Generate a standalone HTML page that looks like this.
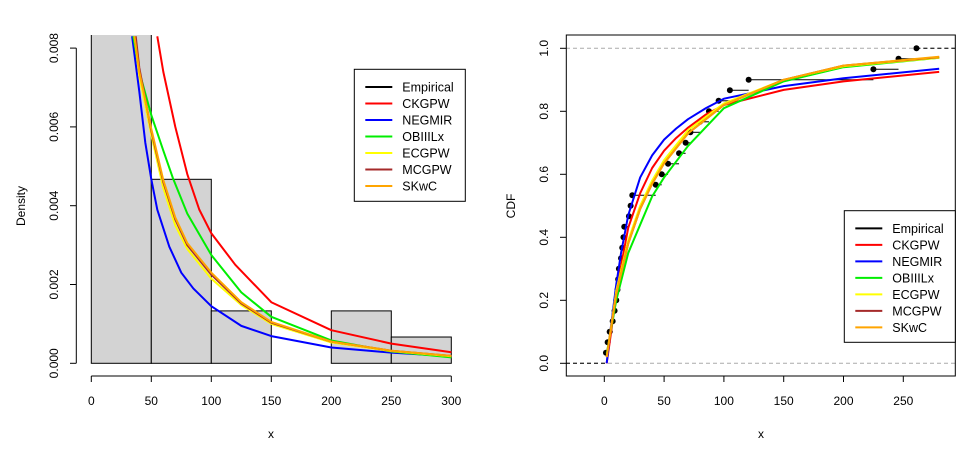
<!DOCTYPE html>
<html><head><meta charset="utf-8"><style>
body{margin:0;background:#fff}
svg{display:block;font-family:"Liberation Sans",Arial,sans-serif}
</style></head><body>
<svg id="c" width="970" height="454" viewBox="0 0 970 454">
<defs>
<clipPath id="clipL"><rect x="76" y="35" width="390" height="341"/></clipPath>
<clipPath id="clipR"><rect x="566" y="35" width="389" height="341"/></clipPath>
</defs>
<g id="left"></g>
<g id="right"></g>
</svg>
<script>
// ---- Left panel data (density in units of 0.001) ----
const binEdges=[0,50,100,150,200,250,300];
const binDens=[12.0,4.67,1.33,0,1.33,0.667];
const xTicksL=[0,50,100,150,200,250,300];
const yTicksL=[0,2,4,6,8];
const yTickLabelsL=["0.000","0.002","0.004","0.006","0.008"];
const denX_CK=[55,60,70,80,90,100,120,150,200,250,300];
const denY_CK=[8.3,7.4,6.0,4.8,3.9,3.3,2.5,1.55,0.84,0.5,0.28];
const denX_NE=[34,40,45,50,55,65,75,85,100,125,150,200,250,300];
const denY_NE=[8.3,6.9,5.6,4.67,3.9,2.96,2.3,1.9,1.45,0.95,0.69,0.40,0.27,0.18];
const denX_OB=[35,40,50,60,68,80,100,125,150,200,250,300];
const denY_OB=[8.3,7.4,6.3,5.4,4.7,3.8,2.75,1.8,1.18,0.58,0.3,0.15];
const denX_EC=[36,40,50,60,70,80,100,125,150,200,250,300];
const denY_EC=[8.3,7.3,5.8,4.45,3.5,2.9,2.15,1.48,1.0,0.53,0.31,0.18];
const denX_MC=[37,40,50,60,70,80,100,125,150,200,250,300];
const denY_MC=[8.3,7.5,5.9,4.6,3.65,3.0,2.25,1.52,1.03,0.55,0.32,0.19];
const denX_SK=[36,40,50,60,70,80,100,125,150,200,250,300];
const denY_SK=[8.3,7.4,5.95,4.65,3.7,3.05,2.3,1.55,1.05,0.55,0.32,0.19];
// ---- Right panel data ----
const ecdfX=[1.4,2.8,4.5,7,8.6,10,11,11.6,12.2,14,15,16,16.7,20.6,22,23.4,43,48,53.3,62.5,68,72,80,87.5,95.6,105,120.7,225,246,261];
const xTicksR=[0,50,100,150,200,250];
const yTicksR=[0,0.2,0.4,0.6,0.8,1.0];
const yTickLabelsR=["0.0","0.2","0.4","0.6","0.8","1.0"];
const cdfX_CK=[2,5,10,15,20,30,40,50,60,70,85,100,150,200,280];
const cdfY_CK=[0,0.08,0.22,0.33,0.43,0.54,0.62,0.675,0.715,0.748,0.79,0.82,0.868,0.895,0.925];
const cdfX_NE=[2,5,10,14,20,30,40,50,60,70,85,100,150,200,280];
const cdfY_NE=[0,0.1,0.25,0.35,0.47,0.59,0.66,0.71,0.745,0.775,0.81,0.84,0.88,0.905,0.935];
const cdfX_OB=[2,10,20,30,40,50,70,100,150,200,280];
const cdfY_OB=[0.03,0.2,0.35,0.44,0.53,0.59,0.69,0.81,0.895,0.94,0.97];
const cdfX_EC=[2,10,20,30,40,50,70,100,150,200,280];
const cdfY_EC=[0.02,0.23,0.39,0.5,0.58,0.645,0.74,0.825,0.9,0.943,0.97];
const cdfX_MC=[2,10,20,30,40,50,70,100,150,200,280];
const cdfY_MC=[0.02,0.22,0.38,0.49,0.57,0.635,0.73,0.82,0.9,0.945,0.972];
const cdfX_SK=[2,10,20,30,40,50,70,100,150,200,280];
const cdfY_SK=[0.02,0.22,0.38,0.49,0.57,0.635,0.73,0.82,0.9,0.945,0.973];

const NS="http://www.w3.org/2000/svg";
function mk(p,tag,attrs,text){const e=document.createElementNS(NS,tag);for(const k in attrs)e.setAttribute(k,attrs[k]);if(text!==undefined)e.textContent=text;p.appendChild(e);return e;}
const names=["Empirical","CKGPW","NEGMIR","OBIIILx","ECGPW","MCGPW","SKwC"];
const cols=["#000","#ff0000","#0000ff","#00ee00","#ffff00","#a52a2a","#ffa500"];

// Left scales
const xL=v=>91.3+v*1.2, yL=v=>363.3-v*39.4;
const L=document.getElementById('left');
const hg=mk(L,'g',{'clip-path':'url(#clipL)'});


binDens.forEach((d,i)=>{
  if(d<=0)return;
  const r=mk(hg,'rect',{x:xL(binEdges[i]),y:yL(d),width:xL(binEdges[i+1])-xL(binEdges[i]),height:yL(0)-yL(d),fill:'#d3d3d3',stroke:'#000','stroke-width':1});
  
  
});
const dens=[[denX_CK,denY_CK],[denX_NE,denY_NE],[denX_OB,denY_OB],[denX_EC,denY_EC],[denX_MC,denY_MC],[denX_SK,denY_SK]];
dens.forEach((s,i)=>{
  const pts=s[0].map((x,j)=>xL(x)+','+yL(s[1][j])).join(' ');
  const pl=mk(hg,'polyline',{points:pts,fill:'none',stroke:cols[i+1],'stroke-width':2,'stroke-linejoin':'round'});
  
  
});
// left axes
mk(L,'line',{x1:76.3,y1:yL(yTicksL[0]),x2:76.3,y2:yL(yTicksL[yTicksL.length-1]),stroke:'#000'});
yTicksL.forEach((t,i)=>{
  mk(L,'line',{x1:70,y1:yL(t),x2:76.3,y2:yL(t),stroke:'#000'});
  const tx=mk(L,'text',{x:0,y:0,transform:`translate(58,${yL(t)}) rotate(-90)`,'text-anchor':'middle','font-size':12},yTickLabelsL[i]);
  
  
});
mk(L,'line',{x1:xL(0),y1:376,x2:xL(300),y2:376,stroke:'#000'});
xTicksL.forEach(t=>{
  mk(L,'line',{x1:xL(t),y1:376,x2:xL(t),y2:382,stroke:'#000'});
  const tx=mk(L,'text',{x:xL(t),y:405,'text-anchor':'middle','font-size':12},String(t));
  
  
});
let t1=mk(L,'text',{x:271,y:438,'text-anchor':'middle','font-size':12},'x');


t1=mk(L,'text',{x:0,y:0,transform:'translate(25,206) rotate(-90)','text-anchor':'middle','font-size':12},'Density');



function legend(p,x,y,w,h){
  const g=mk(p,'g',{});
  
  
  mk(g,'rect',{x:x,y:y,width:w,height:h,fill:'#fff',stroke:'#000'});
  names.forEach((n,i)=>{
    const ey=y+17.7+i*16.5;
    const e=mk(g,'g',{});
    
    
    mk(e,'line',{x1:x+11,y1:ey,x2:x+38,y2:ey,stroke:cols[i],'stroke-width':2});
    mk(e,'text',{x:x+48,y:ey+4.5,'font-size':12.5},n);
  });
}
legend(L,354.3,69.3,111,132);

// Right panel
const xR=v=>604.3+v*1.196, yR=v=>363.3-v*315;
const R=document.getElementById('right');
const rg=mk(R,'g',{'clip-path':'url(#clipR)'});
mk(rg,'line',{x1:566,y1:yR(0),x2:955,y2:yR(0),stroke:'#aaa','stroke-dasharray':'4,3'});
mk(rg,'line',{x1:566,y1:yR(1),x2:955,y2:yR(1),stroke:'#aaa','stroke-dasharray':'4,3'});
const n=ecdfX.length;
const eg=mk(rg,'g',{});


mk(eg,'line',{x1:566,y1:yR(0),x2:xR(ecdfX[0]),y2:yR(0),stroke:'#000','stroke-dasharray':'4,3'});
mk(eg,'line',{x1:xR(ecdfX[n-1]),y1:yR(1),x2:955,y2:yR(1),stroke:'#000','stroke-dasharray':'4,3'});
ecdfX.forEach((x,i)=>{
  const yv=(i+1)/n;
  if(i<n-1) mk(eg,'line',{x1:xR(x),y1:yR(yv),x2:xR(ecdfX[i+1]),y2:yR(yv),stroke:'#000'});
});
ecdfX.forEach((x,i)=>{
  const c=mk(rg,'circle',{cx:xR(x),cy:yR((i+1)/n),r:3,fill:'#000'});
  
  
});
const cdfs=[[cdfX_CK,cdfY_CK],[cdfX_NE,cdfY_NE],[cdfX_OB,cdfY_OB],[cdfX_EC,cdfY_EC],[cdfX_MC,cdfY_MC],[cdfX_SK,cdfY_SK]];
cdfs.forEach((s,i)=>{
  const pts=s[0].map((x,j)=>xR(x)+','+yR(s[1][j])).join(' ');
  const pl=mk(rg,'polyline',{points:pts,fill:'none',stroke:cols[i+1],'stroke-width':2,'stroke-linejoin':'round'});
  
  
});
const box=mk(R,'rect',{x:566.3,y:35,width:389,height:341,fill:'none',stroke:'#000'});


yTicksR.forEach((t,i)=>{
  mk(R,'line',{x1:560,y1:yR(t),x2:566.3,y2:yR(t),stroke:'#000'});
  const tx=mk(R,'text',{x:0,y:0,transform:`translate(548,${yR(t)}) rotate(-90)`,'text-anchor':'middle','font-size':12},yTickLabelsR[i]);
  
  
});
xTicksR.forEach(t=>{
  mk(R,'line',{x1:xR(t),y1:376,x2:xR(t),y2:382,stroke:'#000'});
  const tx=mk(R,'text',{x:xR(t),y:405,'text-anchor':'middle','font-size':12},String(t));
  
  
});
t1=mk(R,'text',{x:761,y:438,'text-anchor':'middle','font-size':12},'x');


t1=mk(R,'text',{x:0,y:0,transform:'translate(515,206) rotate(-90)','text-anchor':'middle','font-size':12},'CDF');


legend(R,844.3,210.7,111,131.6);
</script>
</body></html>
